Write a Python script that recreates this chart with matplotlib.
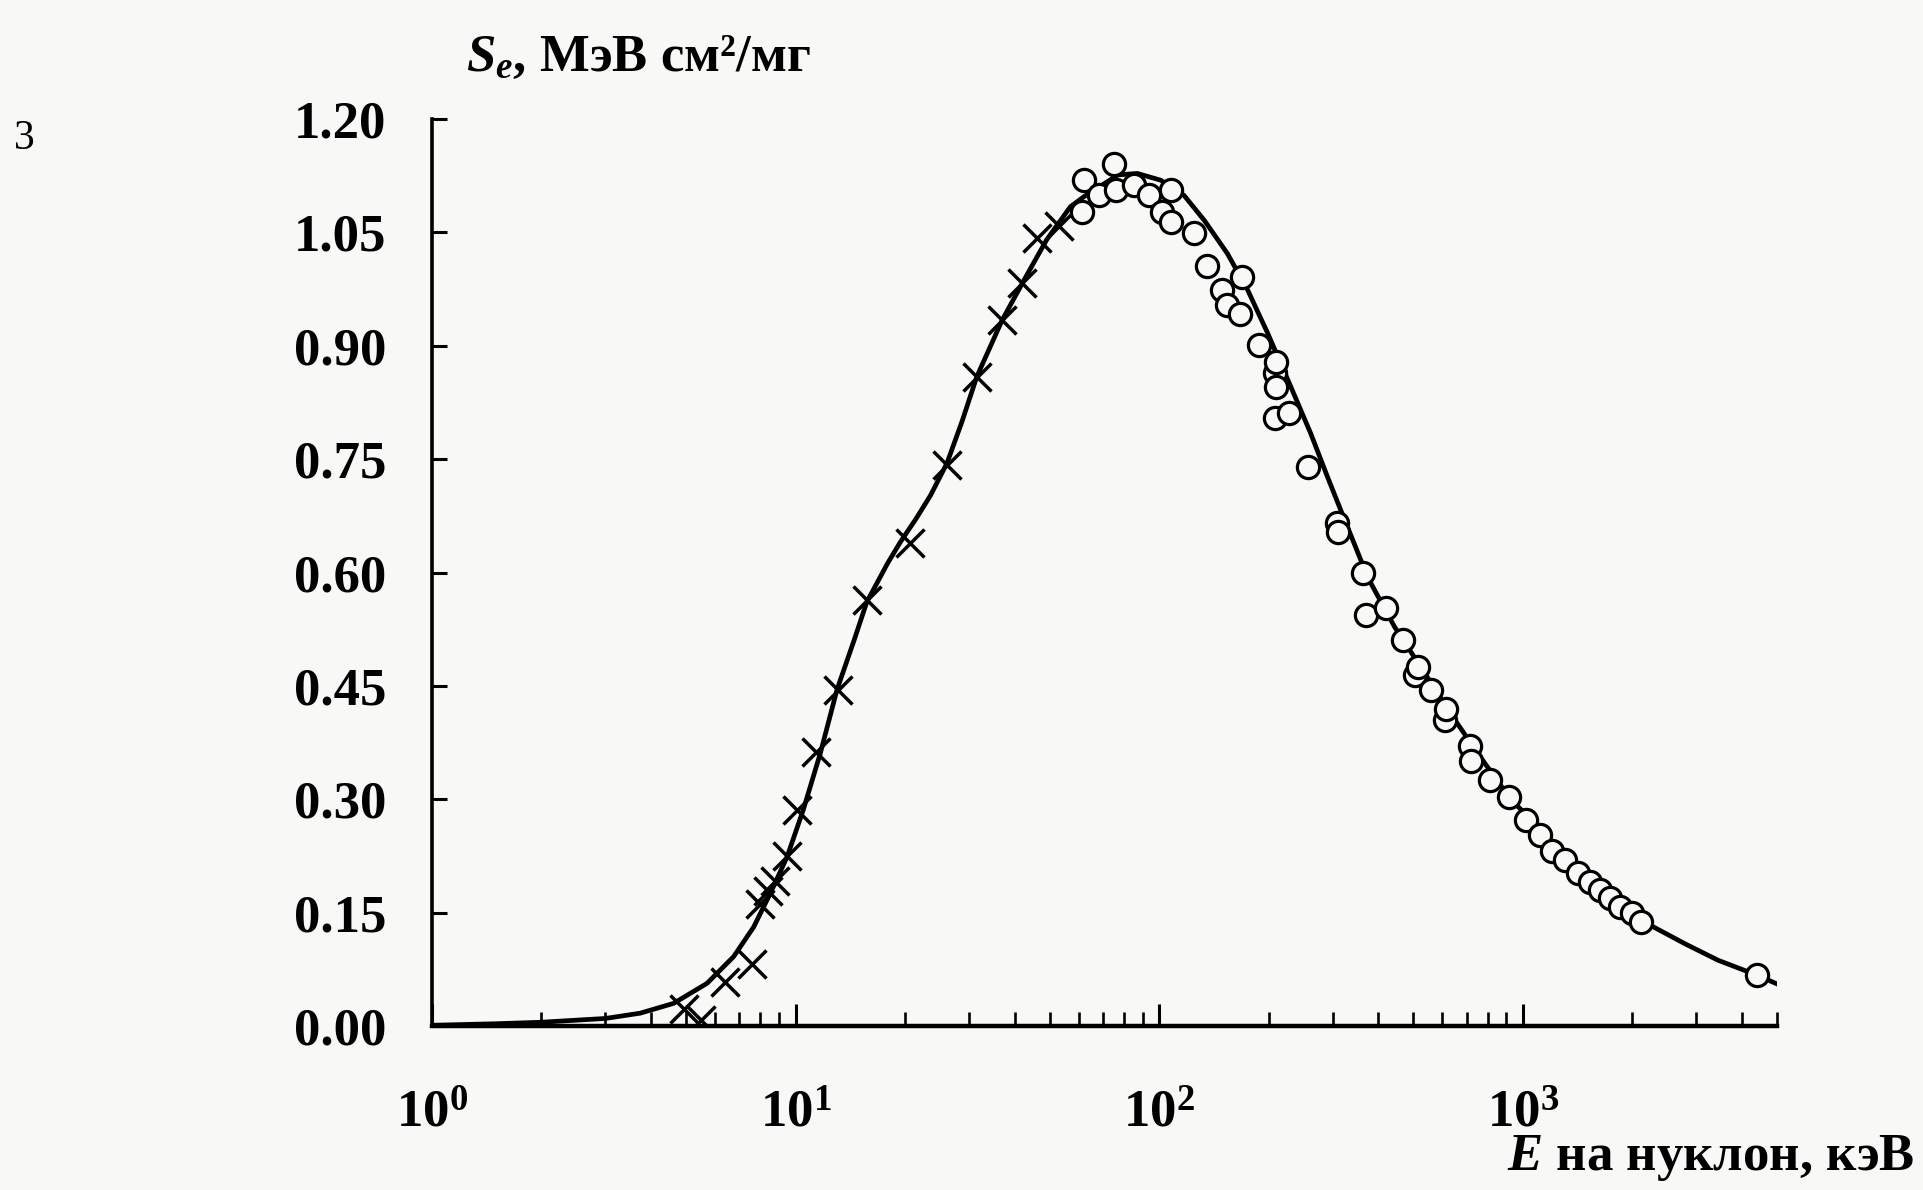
import matplotlib
matplotlib.use('Agg')
import matplotlib.pyplot as plt
from matplotlib.ticker import FixedLocator, NullFormatter, NullLocator

# ---------------- data ----------------
# fitted curve: energy per nucleon (keV) and stopping power (MeV cm^2/mg)
curve_E = [1.0, 1.5, 2.0, 3.0, 3.74, 4.62, 5.71, 6.76, 7.67, 8.53, 9.48, 10.5,
           11.7, 13.0, 14.5, 15.7, 17.9, 19.4, 21.5, 23.5, 26.1, 28.7, 31.5,
           37.0, 42.5, 49.0, 57.0, 62.0, 77.0, 87.0, 101.0, 117.0, 133.0,
           154.0, 175.0, 199.0, 230.0, 261.0, 290.0, 310.0, 375.0, 444.0,
           537.0, 650.0, 785.0, 929.0, 1020.0, 1308.0, 1628.0, 2111.0, 2787.0,
           3443.0, 4393.0, 5095.0]
curve_S = [0.001, 0.003, 0.005, 0.010, 0.017, 0.030, 0.0565, 0.092, 0.131,
           0.176, 0.224, 0.286, 0.361, 0.445, 0.511, 0.561, 0.612, 0.640,
           0.672, 0.702, 0.745, 0.800, 0.859, 0.934, 0.987, 1.040, 1.084,
           1.097, 1.126, 1.128, 1.119, 1.099, 1.066, 1.022, 0.974, 0.916,
           0.846, 0.784, 0.727, 0.692, 0.593, 0.528, 0.467, 0.405, 0.348,
           0.299, 0.280, 0.222, 0.181, 0.140, 0.109, 0.087, 0.0675, 0.054]

# crosses (low-energy data)
cross_E = [4.92, 5.5, 6.38, 7.59, 8.0, 8.4, 8.8, 9.5, 10.1, 11.35, 13.1, 15.7,
           20.7, 26.1, 31.5, 37.0, 42.0, 46.0, 53.0]
cross_S = [0.022, 0.008, 0.058, 0.082, 0.161, 0.178, 0.192, 0.225, 0.286,
           0.362, 0.445, 0.563, 0.639, 0.742, 0.859, 0.934, 0.983, 1.042, 1.058]

# circles (high-energy data)
circ_E = [61.5, 62.1, 68.4, 75.2, 75.9, 85.3, 93.8, 102.0, 107.6, 107.6, 125.0,
          135.0, 149.0, 154.0, 167.0, 169.0, 188.0, 208.0, 208.0, 210.0, 210.0,
          228.0, 256.0, 308.0, 311.0, 363.0, 371.0, 421.0, 468.0, 504.0, 514.0,
          560.0, 609.0, 616.0, 714.0, 721.0, 810.0, 914.0, 1021.0, 1118.0,
          1202.0, 1308.0, 1418.0, 1527.0, 1628.0, 1735.0, 1849.0, 1991.0,
          2111.0, 4393.0]
circ_S = [1.077, 1.119, 1.099, 1.141, 1.106, 1.113, 1.099, 1.077, 1.106, 1.064,
          1.049, 1.005, 0.974, 0.954, 0.942, 0.991, 0.901, 0.864, 0.804, 0.879,
          0.846, 0.811, 0.740, 0.665, 0.654, 0.600, 0.544, 0.553, 0.511, 0.464,
          0.475, 0.445, 0.405, 0.420, 0.370, 0.350, 0.326, 0.303, 0.273, 0.253,
          0.231, 0.220, 0.202, 0.191, 0.180, 0.169, 0.158, 0.149, 0.138, 0.0675]

y_ticks = [0.00, 0.15, 0.30, 0.45, 0.60, 0.75, 0.90, 1.05, 1.20]
y_tick_labels = ['0.00', '0.15', '0.30', '0.45', '0.60', '0.75', '0.90', '1.05', '1.20']
x_major = [1, 10, 100, 1000]
x_tick_labels = [r'$10^{0}$', r'$10^{1}$', r'$10^{2}$', r'$10^{3}$']
x_minor = [2, 3, 4, 5, 6, 7, 8, 9, 20, 30, 40, 50, 60, 70, 80, 90,
           200, 300, 400, 500, 600, 700, 800, 900, 2000, 3000, 4000, 5000]

y_label = r'$S_e$, МэВ см²/мг'
x_label = r'$E$ на нуклон, кэВ'
corner_label = '3'

# ---------------- style ----------------
plt.rcParams['font.family'] = ['Liberation Serif', 'DejaVu Serif']
plt.rcParams['font.weight'] = 'bold'
plt.rcParams['mathtext.fontset'] = 'custom'
plt.rcParams['mathtext.rm'] = 'Liberation Serif:bold'
plt.rcParams['mathtext.it'] = 'Liberation Serif:italic:bold'
plt.rcParams['mathtext.bf'] = 'Liberation Serif:bold'

bg = '#f8f8f6'
fig = plt.figure(figsize=(19.24, 11.90), dpi=100)
fig.patch.set_facecolor(bg)
ax = fig.add_axes([0.2245, 0.1378, 0.6991, 0.7622])
ax.set_facecolor(bg)
ax.set_xscale('log')
ax.set_xlim(1, 5000)
ax.set_ylim(0, 1.20)

ax.plot(curve_E, curve_S, color='black', lw=3.4, zorder=2,
        solid_joinstyle='round')
ax.plot(cross_E, cross_S, ls='none', marker='x', ms=20, mew=2.5,
        color='black', zorder=3)
ax.plot(circ_E, circ_S, ls='none', marker='o', ms=16, mfc=bg, mec='black',
        mew=2.3, zorder=4)

for s in ['top', 'right']:
    ax.spines[s].set_visible(False)
ax.spines['left'].set_linewidth(2.6)
ax.spines['bottom'].set_linewidth(3.2)

ax.set_yticks(y_ticks)
ax.set_yticklabels(y_tick_labels)
ax.yaxis.set_minor_locator(NullLocator())
ax.set_xticks(x_major)
ax.set_xticklabels(x_tick_labels)
ax.xaxis.set_minor_locator(FixedLocator(x_minor))
ax.xaxis.set_minor_formatter(NullFormatter())

ax.tick_params(axis='y', direction='in', length=11, width=2.2, pad=33, labelsize=38)
ax.tick_params(axis='x', which='major', direction='in', length=16, width=2.2,
               pad=46, labelsize=38)
ax.tick_params(axis='x', which='minor', direction='in', length=10, width=1.9)

fig.text(0.242, 0.940, y_label, fontsize=38, ha='left', va='baseline')
fig.text(0.995, 0.017, x_label, fontsize=38, ha='right', va='baseline')
fig.text(0.007, 0.875, corner_label, fontsize=30, fontweight='normal',
         ha='left', va='baseline')

fig.savefig('out.png', dpi=100, facecolor=bg)
